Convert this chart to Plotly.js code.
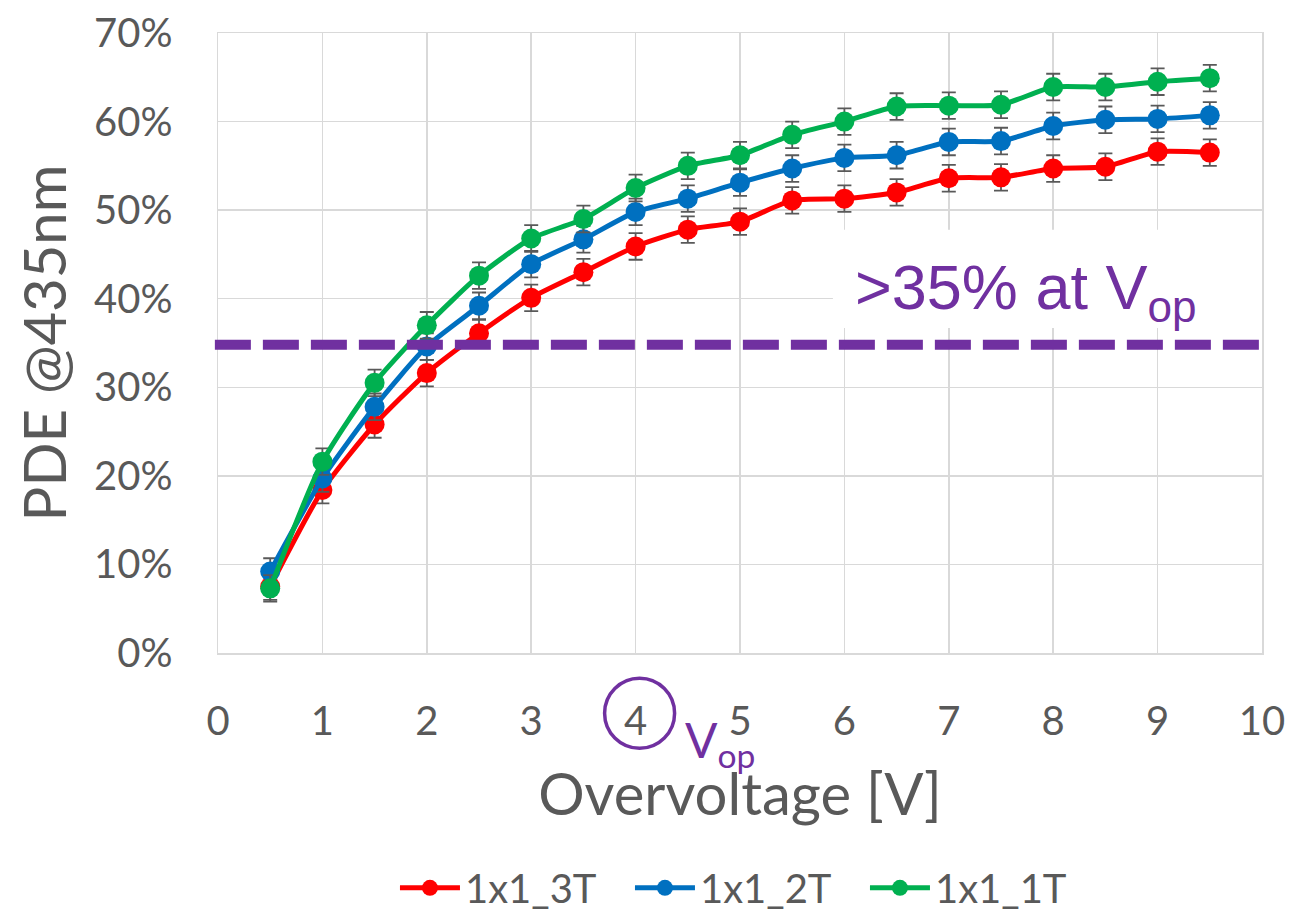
<!DOCTYPE html>
<html>
<head>
<meta charset="utf-8">
<script src="https://cdn.plot.ly/plotly-3.0.1.min.js"></script>
<style>html,body{margin:0;padding:0;background:#fff;}#chart{width:1292px;height:920px;}</style>
</head>
<body>
<div id="chart"></div>
<script>
const overvoltage = [0.5,1,1.5,2,2.5,3,3.5,4,4.5,5,5.5,6,6.5,7,7.5,8,8.5,9,9.5];
const pde_3T = [0.075,0.184,0.258,0.316,0.361,0.401,0.430,0.459,0.478,0.487,0.511,0.513,0.520,0.536,0.537,0.547,0.549,0.566,0.565];
const pde_2T = [0.092,0.197,0.278,0.346,0.392,0.439,0.467,0.498,0.513,0.531,0.547,0.559,0.562,0.577,0.578,0.595,0.602,0.603,0.607];
const pde_1T = [0.073,0.216,0.305,0.370,0.426,0.468,0.490,0.525,0.550,0.562,0.585,0.600,0.617,0.618,0.619,0.639,0.639,0.645,0.649];
const errorBar = 0.015;
const seriesNames = ['1x1_3T','1x1_2T','1x1_1T'];
const seriesColors = ['#ff0000','#0070c0','#00b050'];
const threshold = 0.348;
const xTicks = [0,1,2,3,4,5,6,7,8,9,10];
const yTicks = [0,0.1,0.2,0.3,0.4,0.5,0.6,0.7];

const FONT = 'Lato, "Open Sans", sans-serif';
const GREY = '#595959';
const PURPLE = '#7030a0';

const allSeries = [pde_3T, pde_2T, pde_1T];
const traces = allSeries.map((ys, i) => ({
  type: 'scatter',
  mode: 'lines+markers',
  name: seriesNames[i],
  x: overvoltage,
  y: ys,
  line: {color: seriesColors[i], width: 5, shape: 'spline', smoothing: 0.6},
  marker: {color: seriesColors[i], size: 20},
  error_y: {type: 'constant', value: errorBar, color: GREY, thickness: 1.8, width: 7}
}));

const layout = {
  width: 1292, height: 920,
  margin: {l: 218, r: 30, t: 33, b: 267, autoexpand: false},
  paper_bgcolor: '#ffffff', plot_bgcolor: '#ffffff',
  font: {family: FONT, color: GREY},
  showlegend: true,
  legend: {orientation: 'h', xref: 'container', yref: 'container',
           x: 0.3057, xanchor: 'left', y: 0.035, yanchor: 'middle',
           font: {size: 40, color: GREY, family: FONT},
           itemwidth: 60, entrywidth: 160, entrywidthmode: 'pixels', tracegroupgap: 0},
  xaxis: {
    range: [0, 10], tickvals: xTicks, ticktext: xTicks.map(String),
    showgrid: true, gridcolor: '#d9d9d9', gridwidth: 1.5,
    zeroline: false, showline: true, linecolor: '#d9d9d9', linewidth: 1.5, mirror: true,
    ticks: '', ticklabelstandoff: 32,
    tickfont: {size: 40, color: GREY, family: FONT},
    title: {text: 'Overvoltage [V]', font: {size: 58, color: GREY, family: FONT}, standoff: 32}
  },
  yaxis: {
    range: [0, 0.7], tickvals: yTicks, ticktext: yTicks.map(v => Math.round(v*100) + '%'),
    showgrid: true, gridcolor: '#d9d9d9', gridwidth: 1.5,
    zeroline: false, showline: true, linecolor: '#d9d9d9', linewidth: 1.5, mirror: true,
    ticks: '', ticklabelstandoff: 36,
    tickfont: {size: 40, color: GREY, family: FONT},
    title: {text: 'PDE @435nm', font: {size: 58, color: GREY, family: FONT}, standoff: 8}
  },
  shapes: [
    {type: 'rect', xref: 'x', yref: 'y', x0: 5.89, x1: 10.2, y0: 0.367, y1: 0.478,
     fillcolor: '#ffffff', line: {width: 0}, layer: 'between'},
    {type: 'line', xref: 'paper', yref: 'y', x0: -0.003, x1: 1, y0: threshold, y1: threshold,
     line: {color: PURPLE, width: 10, dash: '36px,12px'}, layer: 'above'},
    {type: 'circle', xref: 'x', yref: 'paper', xsizemode: 'pixel', ysizemode: 'pixel',
     xanchor: 4, yanchor: -0.097, x0: -31, x1: 39, y0: -35, y1: 35,
     line: {color: PURPLE, width: 3.5}}
  ],
  annotations: [
    {xref: 'x', yref: 'y', x: 7.74, y: 0.408, text: '&gt;35% at V<sub>op</sub>',
     showarrow: false, xanchor: 'center', yanchor: 'middle',
     font: {family: '"Liberation Sans", Arial, sans-serif', size: 63, color: PURPLE}},
    {xref: 'x', yref: 'paper', x: 4.45, y: -0.145, text: 'V<sub>op</sub>',
     showarrow: false, xanchor: 'left', yanchor: 'middle',
     font: {family: FONT, size: 48, color: PURPLE}}
  ]
};

Plotly.newPlot('chart', traces, layout, {displayModeBar: false, staticPlot: true});
</script>
</body>
</html>
